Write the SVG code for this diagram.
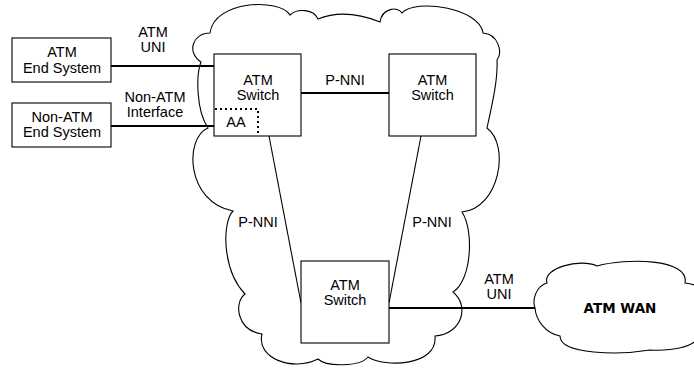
<svg xmlns="http://www.w3.org/2000/svg" width="694" height="368" viewBox="0 0 694 368">
<style>
.cloud{fill:#fff;stroke:#000;stroke-width:1.1;stroke-linejoin:miter}
.box{fill:#fff;stroke:#000;stroke-width:1.1}
.t{font-family:"Liberation Sans",Arial,sans-serif;font-size:14.5px;fill:#000;text-anchor:middle}
.thick{stroke:#000;stroke-width:2;fill:none}
.thin{stroke:#000;stroke-width:1.1;fill:none}
.dot{stroke:#000;stroke-width:2;fill:none;stroke-dasharray:2 3}
.wan{font-family:"DejaVu Sans",Verdana,sans-serif;font-weight:bold;font-size:13.5px;fill:#000;text-anchor:middle}
</style>
<rect width="694" height="368" fill="#fff"/>
<g id="atm-network-cloud">
<path class="cloud" d="M290,15 C280,-2 214,0 210,33 C193,33 186,52 201,62 C196,75 196,110 208,128 C184,138 186,202 233,211 C222,222 222,270 245,294 C234,302 236,330 262,334 C256,358 292,372 318,359 C326,367 360,367 368,357 C385,368 438,366 435,336 C462,334 470,306 453,292 C472,280 474,230 462,212 C500,208 510,145 487,128 C492,105 498,80 497,60 C503,52 498,34 483,33 C480,8 415,-2 402,13 C398,6 382,8 380,22 Q345,8 318,19 C314,9 297,8 290,15 Z"/>
</g>
<g id="atm-wan">
<path class="cloud" d="M535,308 C532,300 536,286 547,283 C542,268 580,258 597,266 C625,258 690,258 685,283 C700,285 710,292 705,300 C715,310 715,330 700,335 C695,348 670,351 650,350 C620,355 560,355 560,336 C545,333 536,320 535,308 Z"/>
<text class="wan" x="620" y="313">ATM WAN</text>
</g>
<g id="connectors">
<line class="thick" x1="111" y1="66" x2="214" y2="66"/>
<line class="thick" x1="111" y1="126" x2="214" y2="126"/>
<line class="thick" x1="301" y1="93" x2="389" y2="93"/>
<line class="thin" x1="269" y1="136" x2="301" y2="303"/>
<line class="thin" x1="421" y1="136" x2="389" y2="303"/>
<line class="thick" x1="389" y1="308" x2="535" y2="308"/>
<text class="t" x="153" y="37">ATM</text>
<text class="t" x="153" y="52">UNI</text>
<text class="t" x="155" y="102">Non-ATM</text>
<text class="t" x="155" y="117">Interface</text>
<text class="t" x="345" y="85">P-NNI</text>
<text class="t" x="258" y="227">P-NNI</text>
<text class="t" x="432" y="227">P-NNI</text>
<text class="t" x="499" y="284">ATM</text>
<text class="t" x="499" y="299">UNI</text>
</g>
<g id="atm-end-system">
<rect class="box" x="12" y="38" width="99" height="44"/>
<text class="t" x="62" y="57">ATM</text>
<text class="t" x="62" y="72.5">End System</text>
</g>
<g id="non-atm-end-system">
<rect class="box" x="12" y="103" width="99" height="44"/>
<text class="t" x="62" y="122">Non-ATM</text>
<text class="t" x="62" y="137">End System</text>
</g>
<g id="atm-switch-1">
<rect class="box" x="214" y="54" width="87" height="82"/>
<text class="t" x="258" y="85">ATM</text>
<text class="t" x="258" y="100">Switch</text>
<polyline class="dot" points="215,109 258,109 258,136"/>
<text class="t" x="236" y="127">AA</text>
</g>
<g id="atm-switch-2">
<rect class="box" x="389" y="54" width="87" height="82"/>
<text class="t" x="432.5" y="85">ATM</text>
<text class="t" x="432.5" y="100">Switch</text>
</g>
<g id="atm-switch-3">
<rect class="box" x="301" y="261" width="88" height="82"/>
<text class="t" x="345" y="290">ATM</text>
<text class="t" x="345" y="305">Switch</text>
</g>
</svg>
